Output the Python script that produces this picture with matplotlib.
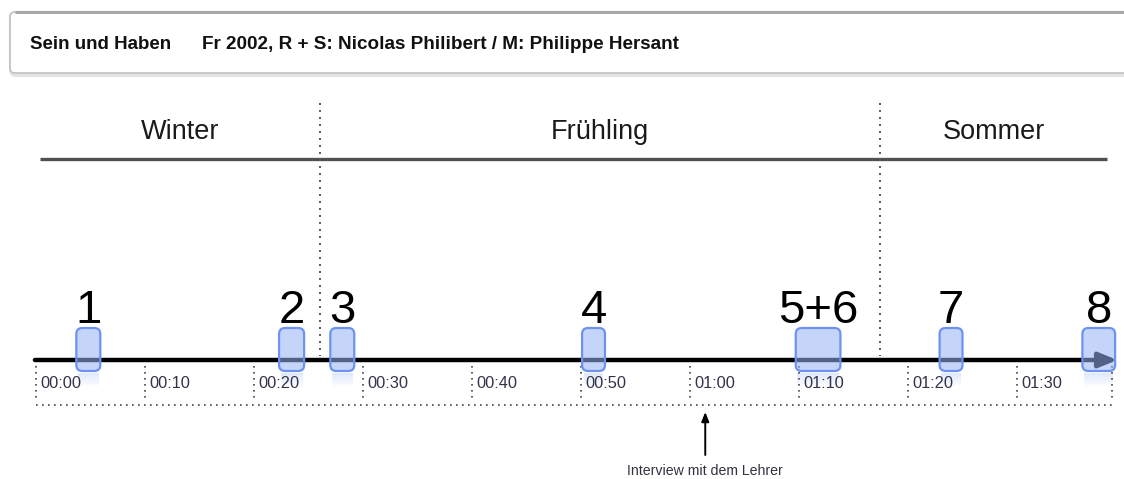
import matplotlib
matplotlib.use("Agg")
import matplotlib.pyplot as plt
from matplotlib.patches import FancyBboxPatch, Rectangle

# ---------------- data ----------------
title_name = "Sein und Haben"
title_info = "Fr 2002, R + S: Nicolas Philibert / M: Philippe Hersant"

seasons = ["Winter", "Frühling", "Sommer"]
season_edges = [0.4, 26.1, 77.4, 98.3]          # minutes

scene_labels = ["1", "2", "3", "4", "5+6", "7", "8"]
scene_starts = [3.7, 22.3, 27.0, 50.1, 69.7, 82.9, 96.0]   # minutes
scene_lengths = [2.2, 2.3, 2.2, 2.1, 4.1, 2.1, 3.0]        # minutes

tick_minutes = [0, 10, 20, 30, 40, 50, 60, 70, 80, 90]
tick_labels = ["00:00", "00:10", "00:20", "00:30", "00:40", "00:50",
               "01:00", "01:10", "01:20", "01:30"]
film_end = 98.7
timeline_end = 99.2

annotation_text = "Interview mit dem Lehrer"
annotation_minute = 61.4

# ---------------- layout ----------------
W, H = 1124, 479
PX_PER_MIN = 10.9
X0 = 36.0
plt.rcParams['font.family'] = ['Liberation Sans', 'DejaVu Sans']

fig = plt.figure(figsize=(W / 100, H / 100), dpi=100)
bg = fig.add_axes([0, 0, 1, 1])
bg.set_xlim(0, W)
bg.set_ylim(H, 0)
bg.axis("off")

ax = fig.add_axes([0, 0, 1, 1])
ax.set_xlim(-X0 / PX_PER_MIN, (W - X0) / PX_PER_MIN)
ax.set_ylim(H, 0)
ax.axis("off")
ax.patch.set_alpha(0)

# header box
shadow = FancyBboxPatch((11, 13), 1140, 62, boxstyle="round,pad=0,rounding_size=5",
                        facecolor="none", edgecolor="#e4e4e4", lw=3, zorder=1)
bg.add_patch(shadow)
hdr = FancyBboxPatch((10, 12), 1140, 61, boxstyle="round,pad=0,rounding_size=5",
                     facecolor="white", edgecolor="#c4c4c4", lw=1.3, zorder=2)
bg.add_patch(hdr)
bg.plot([15, W], [11.5, 11.5], color="#a8a8a8", lw=2.2, zorder=3, solid_capstyle="butt")
bg.text(30, 44, title_name, fontsize=13.5, fontweight="bold", va="center", ha="left",
        color="#111111", zorder=4)
bg.text(202, 44, title_info, fontsize=13.6, fontweight="bold", va="center", ha="left",
        color="#111111", zorder=4)

# seasons
ax.plot([season_edges[0], season_edges[-1]], [159, 159], color="#505050", lw=2.4,
        solid_capstyle="butt", zorder=2)
for i, name in enumerate(seasons):
    mid = (season_edges[i] + season_edges[i + 1]) / 2
    ax.text(mid, 132, name, fontsize=19.5, ha="center", va="center", color="#1a1a1a")
for edge in season_edges[1:-1]:
    ax.plot([edge, edge], [103, 356], color="#555555", lw=1.4,
            linestyle=(0, (1, 2.6)), zorder=2)

# main timeline with arrow
ax.annotate("", xy=(timeline_end, 360), xytext=(-0.1, 360),
            arrowprops=dict(arrowstyle="-|>,head_length=1.1,head_width=0.45",
                            color="black", lw=3.2, shrinkA=0, shrinkB=0), zorder=3)

# ticks
for m, lab in zip(tick_minutes, tick_labels):
    ax.plot([m, m], [366, 399], color="#444444", lw=1.2, linestyle=(0, (1, 2.6)), zorder=2)
    ax.text(m + 4 / PX_PER_MIN, 384, lab, fontsize=11.8, ha="left", va="center",
            color="#33334a")
ax.plot([film_end, film_end], [366, 399], color="#444444", lw=1.2,
        linestyle=(0, (1, 2.6)), zorder=2)
ax.plot([0, film_end], [405, 405], color="#444444", lw=1.2, linestyle=(0, (1, 2.6)), zorder=2)

# scenes
face = (148 / 255, 179 / 255, 245 / 255, 0.55)
edgec = "#6e92f0"
for lab, s, L in zip(scene_labels, scene_starts, scene_lengths):
    box = FancyBboxPatch((s, 328), L, 43,
                         boxstyle="round,pad=0,rounding_size=%f" % (6 / PX_PER_MIN),
                         mutation_aspect=PX_PER_MIN,
                         facecolor=face, edgecolor=edgec, lw=1.6, zorder=5)
    ax.add_patch(box)
    # faded reflection
    for k in range(6):
        ax.add_patch(Rectangle((s + 0.15, 373 + k * 2.2), L - 0.3, 2.2,
                               facecolor=(148 / 255, 179 / 255, 245 / 255,
                                          0.28 * (1 - k / 6)),
                               edgecolor="none", zorder=1))
    ax.text(s + L / 2, 323, lab, fontsize=34, ha="center", va="baseline",
            color="black", zorder=6)

# annotation
ax.annotate("", xy=(annotation_minute, 412), xytext=(annotation_minute, 455),
            arrowprops=dict(arrowstyle="-|>,head_length=0.55,head_width=0.22",
                            color="black", lw=1.4, shrinkA=0, shrinkB=0))
ax.text(annotation_minute, 471, annotation_text, fontsize=10.2, ha="center",
        va="center", color="#333340")

fig.savefig("out.png", dpi=100, facecolor="white")
